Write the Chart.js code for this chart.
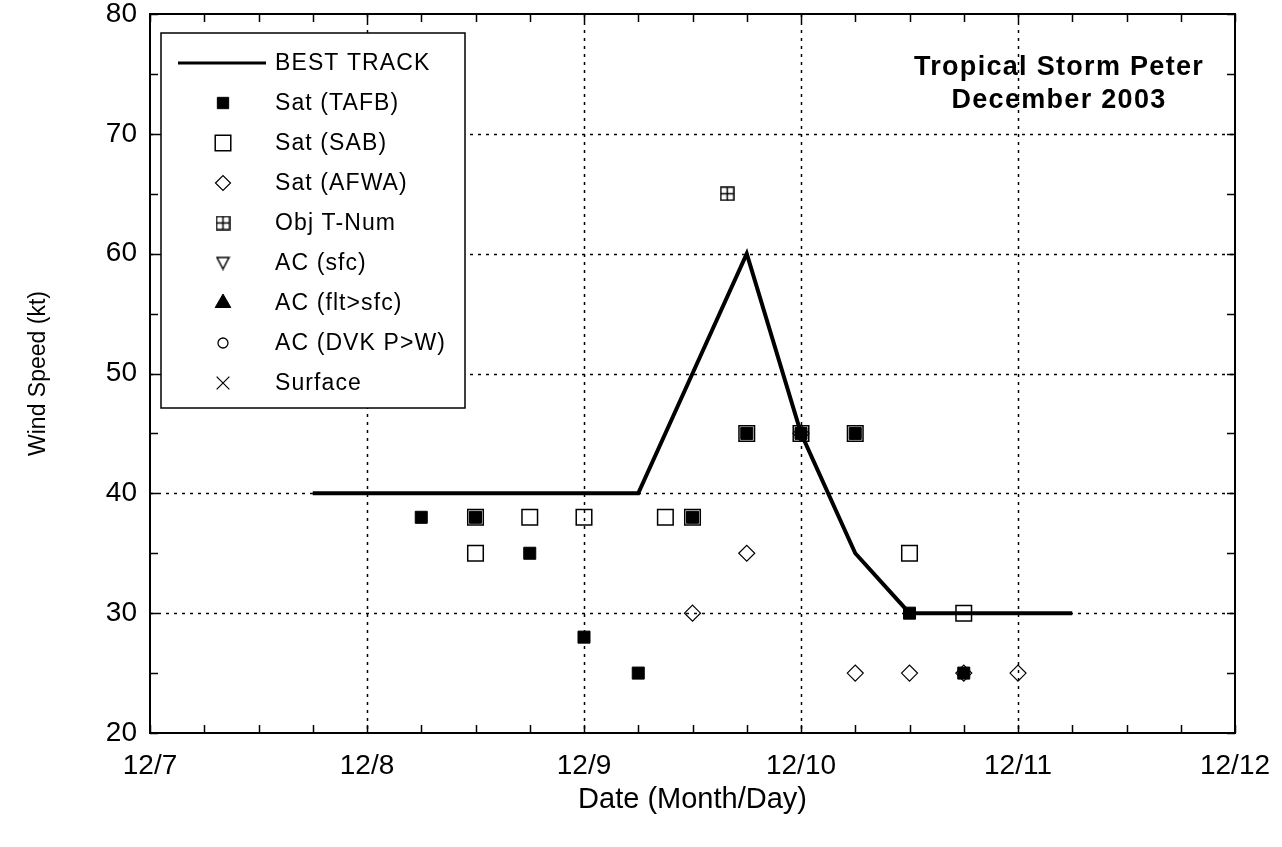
<!DOCTYPE html>
<html>
<head>
<meta charset="utf-8">
<script src="https://cdn.jsdelivr.net/npm/chart.js@4"></script>
<style>
  html, body { margin: 0; padding: 0; background: #fff; }
</style>
</head>
<body>
<canvas id="windChart" width="1282" height="847"></canvas>
<script>
// x values are December day numbers (7 = 12/7 00 UTC)
const dayTicks = [7, 8, 9, 10, 11, 12];
const dayLabels = ["12/7", "12/8", "12/9", "12/10", "12/11", "12/12"];
const windTicks = [20, 30, 40, 50, 60, 70, 80];

const bestTrackDays = [7.75, 8.0, 8.25, 8.5, 8.75, 9.0, 9.25, 9.5, 9.75, 10.0, 10.25, 10.5, 10.75, 11.0, 11.25];
const bestTrackWind = [40, 40, 40, 40, 40, 40, 40, 50, 60, 45, 35, 30, 30, 30, 30];

const tafbDays = [8.25, 8.5, 8.75, 9.0, 9.25, 9.5, 9.75, 10.0, 10.25, 10.5, 10.75];
const tafbWind = [38, 38, 35, 28, 25, 38, 45, 45, 45, 30, 25];

const sabDays = [8.5, 8.5, 8.75, 9.0, 9.375, 9.5, 9.75, 10.0, 10.25, 10.5, 10.75];
const sabWind = [38, 35, 38, 38, 38, 38, 45, 45, 45, 35, 30];

const afwaDays = [9.5, 9.75, 10.0, 10.25, 10.5, 10.75, 11.0];
const afwaWind = [30, 35, 45, 25, 25, 25, 25];

const objDays = [9.66];
const objWind = [65];

const FONT = "'Liberation Sans', Arial, sans-serif";

function pairs(xs, ys) {
    return xs.map((x, i) => ({ x: x, y: ys[i] }));
}

// square with a plus inside (Obj T-Num)
function boxCross(size) {
    const c = document.createElement("canvas");
    c.width = size; c.height = size;
    const g = c.getContext("2d");
    g.strokeStyle = "#000";
    g.lineWidth = 1.5;
    g.strokeRect(1, 1, size - 2, size - 2);
    g.beginPath();
    g.moveTo(size / 2, 1); g.lineTo(size / 2, size - 1);
    g.moveTo(1, size / 2); g.lineTo(size - 1, size / 2);
    g.stroke();
    return c;
}

// open downward triangle (AC sfc)
function triDown(size) {
    const c = document.createElement("canvas");
    c.width = size; c.height = size;
    const g = c.getContext("2d");
    g.strokeStyle = "#000";
    g.lineWidth = 1.5;
    g.beginPath();
    g.moveTo(1.5, 2); g.lineTo(size - 1.5, 2); g.lineTo(size / 2, size - 1.5);
    g.closePath();
    g.stroke();
    return c;
}

const datasets = [
    {
        label: "BEST TRACK",
        type: "line",
        data: pairs(bestTrackDays, bestTrackWind),
        borderColor: "#000",
        borderWidth: 4,
        pointRadius: 0,
        tension: 0,
    },
    {
        label: "Sat (SAB)",
        data: pairs(sabDays, sabWind),
        pointStyle: "rect",
        pointRadius: 11,
        borderColor: "#000",
        backgroundColor: "rgba(0,0,0,0)",
        borderWidth: 1.5,
    },
    {
        label: "Sat (TAFB)",
        data: pairs(tafbDays, tafbWind),
        pointStyle: "rect",
        pointRadius: 8.5,
        borderColor: "#000",
        backgroundColor: "#000",
        borderWidth: 1,
    },
    {
        label: "Sat (AFWA)",
        data: pairs(afwaDays, afwaWind),
        pointStyle: "rectRot",
        pointRadius: 8,
        borderColor: "#000",
        backgroundColor: "rgba(0,0,0,0)",
        borderWidth: 1.2,
    },
    {
        label: "Obj T-Num",
        data: pairs(objDays, objWind),
        pointStyle: boxCross(15),
        pointRadius: 8,
    },
    { label: "AC (sfc)", data: [], pointStyle: triDown(15), pointRadius: 8 },
    { label: "AC (flt>sfc)", data: [], pointStyle: "triangle", pointRadius: 9, backgroundColor: "#000", borderColor: "#000" },
    { label: "AC (DVK P>W)", data: [], pointStyle: "circle", pointRadius: 5, backgroundColor: "rgba(0,0,0,0)", borderColor: "#000", borderWidth: 1.3 },
    { label: "Surface", data: [], pointStyle: "crossRot", pointRadius: 9, borderColor: "#000", borderWidth: 1.2 },
];

// order of rows in the legend box
const legendOrder = ["BEST TRACK", "Sat (TAFB)", "Sat (SAB)", "Sat (AFWA)", "Obj T-Num", "AC (sfc)", "AC (flt>sfc)", "AC (DVK P>W)", "Surface"];

/**
 * Draws the dotted grid, the frame with inward ticks, the storm title and the boxed legend.
 */
const framePlugin = {
    id: "frame",
    beforeDatasetsDraw(chart) {
        const { ctx, chartArea: a, scales: { x, y } } = chart;
        ctx.save();
        ctx.strokeStyle = "#000";
        ctx.lineWidth = 1.5;
        ctx.setLineDash([3, 5]);
        dayTicks.slice(1, -1).forEach((d) => {
            const px = Math.round(x.getPixelForValue(d)) + 0.5;
            ctx.beginPath(); ctx.moveTo(px, a.top); ctx.lineTo(px, a.bottom); ctx.stroke();
        });
        windTicks.slice(1, -1).forEach((w) => {
            const py = Math.round(y.getPixelForValue(w)) + 0.5;
            ctx.beginPath(); ctx.moveTo(a.left, py); ctx.lineTo(a.right, py); ctx.stroke();
        });
        ctx.restore();
    },
    afterDatasetsDraw(chart) {
        const { ctx, chartArea: a, scales: { x, y } } = chart;
        ctx.save();
        ctx.strokeStyle = "#000";
        ctx.lineWidth = 2;
        ctx.strokeRect(a.left, a.top, a.right - a.left, a.bottom - a.top);
        ctx.lineWidth = 1.5;
        ctx.beginPath();
        for (let d = dayTicks[0]; d <= dayTicks[dayTicks.length - 1]; d += 0.25) {
            const px = Math.round(x.getPixelForValue(d)) + 0.5;
            ctx.moveTo(px, a.bottom); ctx.lineTo(px, a.bottom - 8);
            ctx.moveTo(px, a.top); ctx.lineTo(px, a.top + 8);
        }
        for (let w = windTicks[0]; w <= windTicks[windTicks.length - 1]; w += 5) {
            const py = Math.round(y.getPixelForValue(w)) + 0.5;
            ctx.moveTo(a.left, py); ctx.lineTo(a.left + 8, py);
            ctx.moveTo(a.right, py); ctx.lineTo(a.right - 8, py);
        }
        ctx.stroke();

        // storm title
        ctx.fillStyle = "#000";
        ctx.font = "bold 27px " + FONT;
        ctx.letterSpacing = "1.3px";
        ctx.textAlign = "center";
        ctx.textBaseline = "middle";
        ctx.fillText("Tropical Storm Peter", a.right - 176, a.top + 54);
        ctx.fillText("December 2003", a.right - 176, a.top + 87);
        ctx.restore();
    },
    afterDraw(chart) {
        const { ctx, chartArea: a } = chart;
        const bx = a.left + 11, by = a.top + 19, bw = 304, bh = 375;
        ctx.save();
        ctx.fillStyle = "#fff";
        ctx.fillRect(bx, by, bw, bh);
        ctx.strokeStyle = "#000";
        ctx.lineWidth = 1.5;
        ctx.strokeRect(bx, by, bw, bh);
        ctx.font = "23px " + FONT;
        ctx.letterSpacing = "1.1px";
        ctx.textBaseline = "middle";
        ctx.textAlign = "left";
        legendOrder.forEach((name, i) => {
            const ds = chart.data.datasets.find((d) => d.label === name);
            const ry = by + 30 + i * 40;
            if (ds.type === "line") {
                ctx.lineWidth = 3;
                ctx.strokeStyle = "#000";
                ctx.beginPath(); ctx.moveTo(bx + 17, ry); ctx.lineTo(bx + 105, ry); ctx.stroke();
            } else {
                ctx.fillStyle = ds.backgroundColor || "#000";
                ctx.strokeStyle = ds.borderColor || "#000";
                ctx.lineWidth = ds.borderWidth || 1;
                let r = ds.pointRadius;
                if (name === "Sat (TAFB)") r = 8;
                if (name === "Sat (SAB)") r = 11;
                if (name === "Sat (AFWA)") r = 7.5;
                Chart.helpers.drawPoint(ctx, { pointStyle: ds.pointStyle, radius: r, rotation: 0, borderWidth: ds.borderWidth || 1 }, bx + 62, ry);
            }
            ctx.fillStyle = "#000";
            ctx.fillText(name, bx + 114, ry + 1);
        });
        ctx.restore();
    },
};

new Chart(document.getElementById("windChart").getContext("2d"), {
    type: "scatter",
    data: { datasets: datasets },
    plugins: [framePlugin],
    options: {
        responsive: false,
        animation: false,
        layout: { padding: { top: 14, right: 47, left: 0, bottom: 0 } },
        plugins: { legend: { display: false }, tooltip: { enabled: false } },
        scales: {
            x: {
                type: "linear",
                min: 7,
                max: 12,
                afterBuildTicks: (s) => { s.ticks = dayTicks.map((v) => ({ value: v })); },
                afterFit: (s) => { s.height = 114; s.paddingLeft = 0; s.paddingRight = 0; },
                grid: { display: false, drawTicks: false },
                border: { display: false },
                ticks: {
                    padding: 16,
                    color: "#000",
                    font: { family: FONT, size: 28 },
                    callback: (v) => dayLabels[dayTicks.indexOf(v)],
                },
                title: {
                    display: true,
                    text: "Date (Month/Day)",
                    color: "#000",
                    font: { family: FONT, size: 29 },
                    padding: { top: 0, bottom: 30 },
                },
            },
            y: {
                min: 20,
                max: 80,
                afterBuildTicks: (s) => { s.ticks = windTicks.map((v) => ({ value: v })); },
                afterFit: (s) => { s.width = 150; s.paddingTop = 0; s.paddingBottom = 0; },
                grid: { display: false, drawTicks: false },
                border: { display: false },
                ticks: {
                    padding: 13,
                    color: "#000",
                    font: { family: FONT, size: 28 },
                },
                title: {
                    display: true,
                    text: "Wind Speed (kt)",
                    color: "#000",
                    font: { family: FONT, size: 23 },
                    padding: { top: 25, bottom: 0 },
                },
            },
        },
    },
});
</script>
</body>
</html>
